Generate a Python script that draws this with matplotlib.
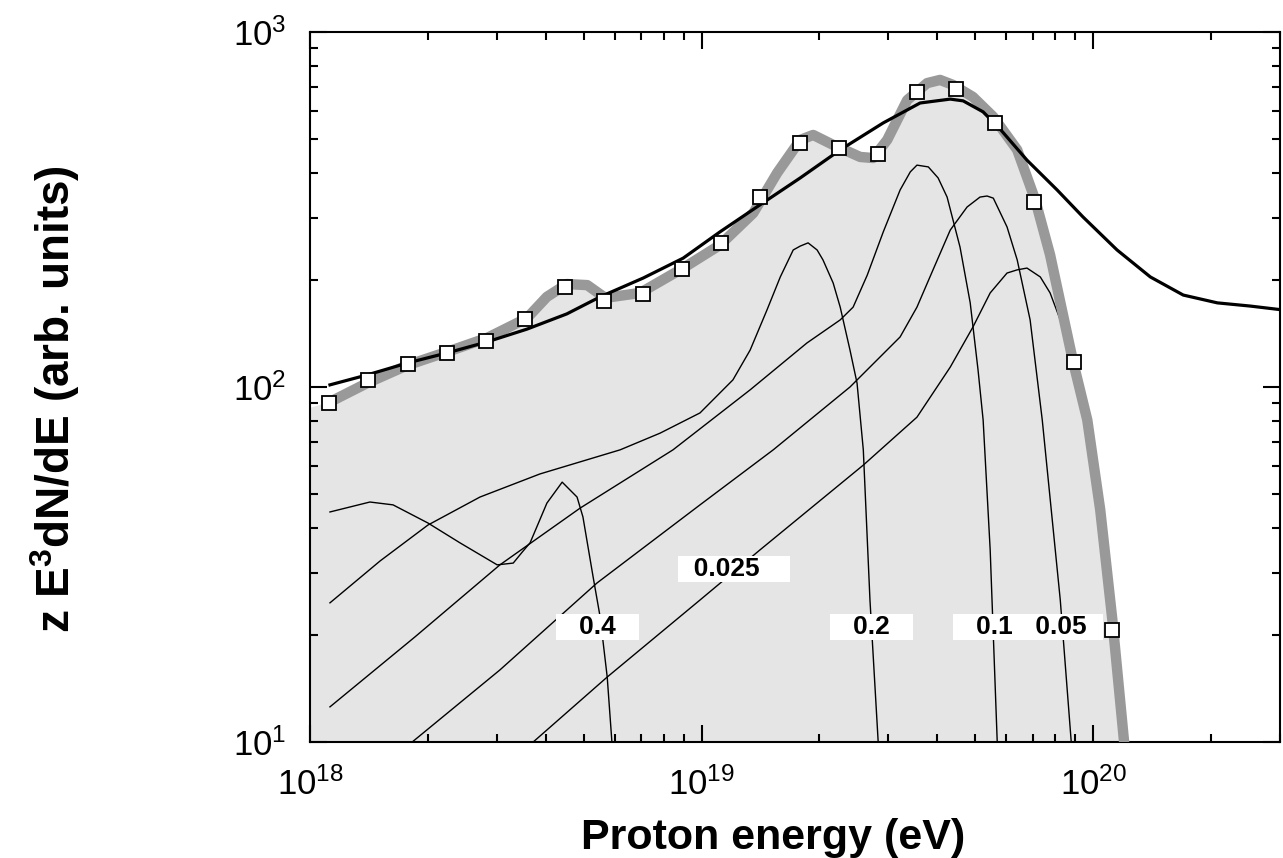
import numpy as np
import matplotlib
matplotlib.use('Agg')
import matplotlib.pyplot as plt
from matplotlib.ticker import LogLocator, NullFormatter

plt.rcParams['font.family'] = ['Liberation Sans', 'DejaVu Sans']
plt.rcParams['mathtext.fontset'] = 'custom'
plt.rcParams['mathtext.rm'] = 'Liberation Sans'
plt.rcParams['mathtext.bf'] = 'Liberation Sans:bold'

# ---------------- data (log10 E [eV], log10 flux) ----------------
# measured points (squares)
data_E = [1.12e18, 1.41e18, 1.78e18, 2.24e18, 2.82e18, 3.55e18, 4.47e18,
          5.62e18, 7.08e18, 8.91e18, 1.12e19, 1.41e19, 1.78e19, 2.24e19,
          2.82e19, 3.55e19, 4.47e19, 5.62e19, 7.08e19, 8.91e19, 1.12e20]
data_F = [90.2, 104.7, 116.1, 124.7, 134.9, 155.6, 191.4,
          174.6, 182.8, 214.8, 254.7, 342.8, 486.4, 471.0,
          452.9, 677.5, 690.2, 554.6, 331.9, 117.5, 20.65]

# total model (thick black)
total_logE = [18.051, 18.146, 18.250, 18.350, 18.452, 18.554, 18.656, 18.741,
              18.851, 18.953, 19.047, 19.149, 19.252, 19.354, 19.464, 19.558,
              19.635, 19.668, 19.719, 19.762, 19.831, 19.908, 19.974, 20.061,
              20.146, 20.230, 20.317, 20.401, 20.485]
total_logF = [2.006, 2.034, 2.068, 2.096, 2.127, 2.163, 2.206, 2.254,
              2.307, 2.363, 2.437, 2.513, 2.589, 2.668, 2.744, 2.800,
              2.811, 2.806, 2.775, 2.727, 2.639, 2.555, 2.479, 2.386,
              2.310, 2.259, 2.237, 2.228, 2.217]

# sum of shells (thick grey band)
band_logE = [18.051, 18.146, 18.250, 18.350, 18.452, 18.554, 18.605, 18.656,
             18.708, 18.754, 18.843, 18.953, 19.047, 19.132, 19.193, 19.252,
             19.285, 19.336, 19.405, 19.438, 19.474, 19.525, 19.576, 19.609,
             19.642, 19.693, 19.745, 19.806, 19.852, 19.890, 19.923, 19.949,
             19.985, 20.018, 20.049, 20.079, 20.089]
band_logF = [1.958, 2.011, 2.062, 2.099, 2.138, 2.194, 2.254, 2.290,
             2.287, 2.251, 2.265, 2.335, 2.400, 2.490, 2.603, 2.696,
             2.710, 2.682, 2.648, 2.645, 2.696, 2.808, 2.856, 2.865,
             2.851, 2.817, 2.761, 2.668, 2.527, 2.372, 2.203, 2.070,
             1.907, 1.654, 1.344, 1.000, 0.837]
fill_start_logE = 18.0
fill_start_logF = 1.941

# individual redshift shells (thin black)
z04_logE = [18.051, 18.153, 18.212, 18.301, 18.383, 18.478, 18.519, 18.542, 18.562,
            18.605, 18.644, 18.682, 18.697, 18.723, 18.741, 18.759, 18.771, 18.779]
z04_logF = [1.648, 1.676, 1.668, 1.617, 1.561, 1.499, 1.504, 1.535, 1.561,
            1.673, 1.732, 1.690, 1.634, 1.465, 1.352, 1.183, 1.000, 0.865]

z02_logE = [18.051, 18.179, 18.301, 18.434, 18.587, 18.792, 18.894, 18.996, 19.080,
            19.124, 19.167, 19.201, 19.234, 19.252, 19.272, 19.295, 19.310, 19.336,
            19.354, 19.379, 19.397, 19.413, 19.430, 19.451, 19.456]
z02_logF = [1.392, 1.510, 1.611, 1.690, 1.755, 1.823, 1.870, 1.927, 2.020,
            2.104, 2.217, 2.310, 2.386, 2.397, 2.406, 2.386, 2.358, 2.293,
            2.225, 2.104, 2.011, 1.823, 1.400, 1.000, 0.865]

z01_logE = [18.051, 18.268, 18.485, 18.690, 18.927, 19.124, 19.269, 19.354, 19.387,
            19.423, 19.464, 19.507, 19.533, 19.550, 19.579, 19.604, 19.627, 19.660,
            19.686, 19.706, 19.719, 19.737, 19.755, 19.760]
z01_logF = [1.099, 1.296, 1.499, 1.659, 1.823, 1.992, 2.124, 2.189, 2.225,
            2.315, 2.437, 2.555, 2.606, 2.625, 2.620, 2.589, 2.535, 2.394,
            2.237, 2.048, 1.907, 1.541, 1.000, 0.865]

z005_logE = [18.217, 18.261, 18.485, 18.733, 18.996, 19.183, 19.379, 19.507, 19.550,
             19.591, 19.635, 19.678, 19.711, 19.729, 19.745, 19.780, 19.806, 19.839,
             19.870, 19.916, 19.944, 19.949]
z005_logF = [0.958, 1.000, 1.203, 1.448, 1.668, 1.823, 2.000, 2.141, 2.225,
             2.330, 2.442, 2.507, 2.535, 2.538, 2.532, 2.451, 2.358, 2.189,
             1.907, 1.400, 1.000, 0.865]

z0025_logE = [18.526, 18.570, 18.759, 18.996, 19.149, 19.413, 19.550, 19.635, 19.693,
              19.737, 19.780, 19.806, 19.831, 19.865, 19.890, 19.916, 19.949, 19.985,
              20.018, 20.049, 20.079, 20.089]
z0025_logF = [0.958, 1.000, 1.183, 1.400, 1.541, 1.780, 1.915, 2.056, 2.169,
              2.265, 2.321, 2.330, 2.335, 2.310, 2.265, 2.189, 2.070, 1.907,
              1.654, 1.344, 1.000, 0.837]

shell_labels = ['0.4', '0.025', '0.2', '0.1', '0.05']

# ---------------- figure ----------------
W, H = 1283, 858
fig = plt.figure(figsize=(W / 100, H / 100), dpi=100)
ax = fig.add_axes([310 / W, 1 - 742 / H, 970 / W, 710 / H])
ax.set_xscale('log')
ax.set_yscale('log')


def pw(a):
    return 10.0 ** np.asarray(a, dtype=float)


fill_E = np.concatenate([[fill_start_logE], band_logE])
fill_F = np.concatenate([[fill_start_logF], band_logF])
ax.fill_between(pw(fill_E), pw(fill_F), 1.0, color='#e5e5e5', lw=0, zorder=1)

for le, lf in [(z04_logE, z04_logF), (z02_logE, z02_logF), (z01_logE, z01_logF),
               (z005_logE, z005_logF), (z0025_logE, z0025_logF)]:
    ax.plot(pw(le), pw(lf), color='black', lw=1.0, zorder=2)

ax.plot(pw(band_logE), pw(band_logF), color='#999999', lw=7.5,
        solid_joinstyle='round', solid_capstyle='butt', zorder=3)
ax.plot(pw(total_logE), pw(total_logF), color='black', lw=2.3,
        solid_joinstyle='round', zorder=4)
ax.plot(data_E, data_F, 's', ms=10, mfc='white', mec='black', mew=1.3, zorder=5)

label_pos = [(5.41e18, 21.1, '   {}   '), (1.208e19, 30.8, '  {}    '),
             (2.71e19, 21.1, '   {}   '), (5.47e19, 21.1, '   {}  '),
             (8.47e19, 21.1, ' {}  ')]
for (xe, yf, fmt), lab in zip(label_pos, shell_labels):
    ax.text(xe, yf, fmt.format(lab), ha='center', va='center', fontsize=19,
            fontweight='bold', zorder=6,
            bbox=dict(boxstyle='square,pad=0.04', fc='white', ec='none'))

ax.set_xlim(1e18, 3e20)
ax.set_ylim(10, 1000)

ax.xaxis.set_major_locator(LogLocator(base=10, numticks=10))
ax.yaxis.set_major_locator(LogLocator(base=10, numticks=10))
ax.xaxis.set_minor_locator(LogLocator(base=10, subs=np.arange(2, 10), numticks=20))
ax.yaxis.set_minor_locator(LogLocator(base=10, subs=np.arange(2, 10), numticks=20))
ax.xaxis.set_minor_formatter(NullFormatter())
ax.yaxis.set_minor_formatter(NullFormatter())

ax.tick_params(which='both', direction='in', top=True, right=True, width=1.5)
ax.tick_params(which='major', length=12, labelsize=25)
ax.tick_params(which='minor', length=6)
ax.tick_params(axis='x', which='major', pad=18)
ax.tick_params(axis='y', which='major', pad=17)
for s in ax.spines.values():
    s.set_linewidth(1.5)

fig.text(773 / W, 1 - 849 / H, 'Proton energy (eV)', ha='center', va='baseline',
         fontsize=31, fontweight='bold')
fig.text(55 / W, 1 - 399 / H, r'z E$^{\mathdefault{3}}$dN/dE (arb. units)',
         rotation=90, ha='center', va='center', fontsize=33, fontweight='bold')

fig.savefig('out.png', dpi=100)
